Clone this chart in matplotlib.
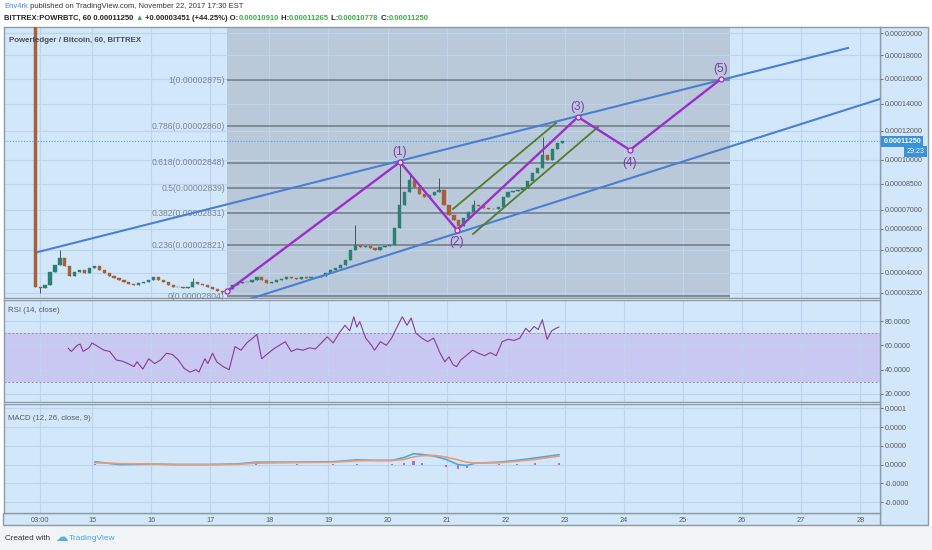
import matplotlib
matplotlib.use("Agg")
import matplotlib.pyplot as plt
import numpy as np

plt.rcParams["font.family"] = ["Liberation Sans", "DejaVu Sans"]

W, H = 932, 550

# ---------------- data ----------------
# 2-hour candles from Nov 14 ~01:00 to Nov 22 ~23:00, prices in satoshi (1e-8 BTC)
candle_t0 = 14.04
candle_step = 2 / 24
first_open = 30000
closes = [3424, 3385, 3502, 4023, 4318, 4624, 4276, 3859, 4023, 4106,
          3982, 4190, 4276, 4106, 3982, 3859, 3779, 3698, 3619, 3541,
          3502, 3580, 3619, 3698, 3819, 3698, 3619, 3502, 3424, 3424,
          3385, 3424, 3619, 3541, 3502, 3424, 3350, 3275, 3238, 3350,
          3502, 3580, 3619, 3619, 3698, 3819, 3698, 3580, 3619, 3698,
          3738, 3819, 3779, 3738, 3819, 3779, 3819, 3819, 3859, 3982,
          4106, 4190, 4318, 4535, 4984, 5217, 5123, 5170, 5077, 4984,
          5123, 5170, 5217, 6050, 7274, 8016, 8733, 8310, 7899, 7726,
          7841, 8016, 8133, 7274, 6727, 6463, 6152, 6568, 6890, 7274,
          7218, 7109, 7054, 7054, 7164, 7726, 8016, 8074, 8133, 8251,
          8672, 9165, 9480, 10324, 9994, 10726, 11135, 11250]
spike_highs = {5: 4984, 32: 3779, 65: 6203, 74: 9865, 76: 9040, 82: 8855, 89: 7555, 103: 11550}
spike_lows = {1: 3200, 38: 3164, 86: 5949}
last_price = 11250

price_ticks = [3200, 4000, 5000, 6000, 7000, 8500, 10000, 12000, 14000, 16000, 18000, 20000]

# fibonacci retracement
fib_ratios = [0, 0.236, 0.382, 0.5, 0.618, 0.786, 1]
fib_texts = ["0.00002804", "0.00002821", "0.00002831", "0.00002839",
             "0.00002848", "0.00002860", "0.00002875"]
fib_low, fib_high = 3090, 15897
fib_start, fib_end = 17.284, 25.795

# elliott wave
wave_day = [17.284, 20.212, 21.176, 23.223, 24.103, 25.643]
wave_price = [3260, 9865, 5949, 13000, 10658, 15980]
wave_names = ["", "(1)", "(2)", "(3)", "(4)", "(5)"]

# trend lines
upper_day, upper_price = [14.086, 27.792], [4893, 18641]
lower_day, lower_price = [17.504, 28.333], [2876, 14371]
green_a_day, green_a_price = [21.108, 22.851], [7053, 12555]
green_b_day, green_b_price = [21.447, 23.562], [5750, 12263]

# RSI (14, close)
rsi_day = [14.60, 14.65, 14.75, 14.80, 14.85, 14.95, 15.00, 15.10, 15.20, 15.30,
           15.41, 15.51, 15.61, 15.71, 15.76, 15.86, 15.96, 16.06, 16.16, 16.26,
           16.36, 16.46, 16.56, 16.66, 16.76, 16.81, 16.91, 16.96, 17.04, 17.11,
           17.22, 17.32, 17.42, 17.52, 17.62, 17.72, 17.79, 17.87, 17.97, 18.07,
           18.17, 18.27, 18.37, 18.47, 18.57, 18.68, 18.78, 18.88, 18.98, 19.08,
           19.18, 19.28, 19.36, 19.43, 19.48, 19.53, 19.63, 19.73, 19.78, 19.88,
           19.98, 20.07, 20.15, 20.25, 20.33, 20.40, 20.48, 20.58, 20.68, 20.78,
           20.89, 20.97, 21.04, 21.11, 21.17, 21.24, 21.34, 21.44, 21.54, 21.64,
           21.74, 21.84, 21.94, 22.04, 22.14, 22.24, 22.34, 22.40, 22.48, 22.55,
           22.62, 22.70, 22.78, 22.85, 22.90]
rsi_value = [57.5, 55, 60, 61, 55, 58, 62, 59, 56, 55,
             48, 47, 45, 42.5, 46.5, 40.5, 49, 45, 48, 53.5,
             52.5, 48, 41, 38, 40, 38, 49, 45, 53.5, 46.5,
             42.5, 40, 59, 56, 62, 66, 69, 49, 53, 57,
             60, 63, 55, 57, 56, 58, 57, 62, 67, 62,
             70, 76.5, 72, 83.5, 75, 79.5, 66, 60, 56, 63,
             60, 66, 74, 83.5, 76.5, 82.5, 70, 66, 63, 66,
             53.5, 46.5, 50.5, 44, 42.5, 48, 52, 56, 53.5, 51.5,
             54, 51.5, 63, 65, 64, 66, 74, 71, 75.5, 73,
             81, 65, 72, 74, 75]

# MACD (12, 26, close, 9), values in 1e-5
macd_day = [15.05, 15.46, 16.06, 16.46, 16.96, 17.47, 17.77, 18.47, 19.08, 19.48,
            19.88, 20.08, 20.28, 20.44, 20.58, 20.79, 20.99, 21.19, 21.34, 21.49,
            21.89, 22.19, 22.50, 22.90]
macd_line = [0.3, 0.0, 0.05, 0.0, 0.0, 0.07, 0.25, 0.25, 0.3, 0.5,
             0.43, 0.45, 0.75, 1.15, 1.08, 0.9, 0.55, 0.0, -0.1, 0.15,
             0.25, 0.45, 0.7, 1.05]
macd_signal = [0.2, 0.1, 0.05, 0.0, 0.0, 0.03, 0.15, 0.22, 0.25, 0.4,
               0.45, 0.43, 0.55, 0.8, 0.95, 0.97, 0.8, 0.5, 0.25, 0.15,
               0.2, 0.35, 0.55, 0.9]
macd_ticks = [6e-5, 4e-5, 2e-5, 0, -2e-5, -4e-5]

date_ticks = [14.125, 15, 16, 17, 18, 19, 20, 21, 22, 23, 24, 25, 26, 27, 28]
date_labels = ["03:00", "15", "16", "17", "18", "19", "20", "21", "22", "23",
               "24", "25", "26", "27", "28"]

# ---------------- style ----------------
BG = "#d3e7fb"
GRID = "#bcd4ec"
SPINE = "#8d9ba7"
AXTXT = "#5a5a5a"
UP, DOWN, WICK = "#2b8073", "#a85f38", "#3a3f44"
PURPLE = "#9b2fc9"
BLUE = "#4a7fd2"
GREEN = "#4f7d2b"
SAT = 1e-8
XLIM = (13.511, 28.333)


def px_axes(fig, x0, y0, x1, y1):
    return fig.add_axes([x0 / W, 1 - y1 / H, (x1 - x0) / W, (y1 - y0) / H])


def style_pane(ax):
    ax.set_facecolor(BG)
    ax.set_xlim(*XLIM)
    ax.set_axisbelow(True)
    ax.grid(True, color=GRID, lw=0.8)
    for sp in ax.spines.values():
        sp.set_color(SPINE)
        sp.set_linewidth(1.0)
    ax.yaxis.tick_right()
    ax.tick_params(axis="y", which="both", length=2.5, width=0.6, color=AXTXT,
                   labelsize=5.1, labelcolor=AXTXT, pad=1)
    ax.tick_params(axis="x", length=0, labelbottom=False)
    ax.set_xticks(date_ticks)


def draw_runs(fig, x, y, runs, size, weight="normal"):
    renderer = fig.canvas.get_renderer()
    for s, color in runs:
        t = fig.text(x / W, 1 - y / H, s, color=color, fontsize=size,
                     fontweight=weight, ha="left", va="center")
        x += t.get_window_extent(renderer=renderer).width


fig = plt.figure(figsize=(W / 100, H / 100), dpi=100, facecolor="white")

# chart frame backgrounds (right scale + date scale + footer)
fig.patches.append(plt.Rectangle((880 / W, 1 - 525 / H), 48 / W, 498 / H,
                                 transform=fig.transFigure, fc=BG, ec=SPINE, lw=1.0, zorder=-5))
fig.patches.append(plt.Rectangle((3 / W, 1 - 525 / H), 877 / W, 12 / H,
                                 transform=fig.transFigure, fc=BG, ec=SPINE, lw=1.0, zorder=-5))
fig.patches.append(plt.Rectangle((0, 0), 1, 24 / H, transform=fig.transFigure,
                                 fc="#f1f4f7", ec="none", zorder=-6))

# ---------------- main price pane ----------------
ax = px_axes(fig, 4, 27, 880, 298)
style_pane(ax)
ax.set_yscale("function", functions=(np.sqrt, np.square))
ax.set_ylim(3018 * SAT, 20558 * SAT)
ax.set_yticks([p * SAT for p in price_ticks])
ax.set_yticklabels([f"{p * SAT:.8f}" for p in price_ticks])
ax.minorticks_off()

ax.axvspan(fib_start, fib_end, color="#b9c9d9", zorder=0.3, lw=0)

# candles
n = len(closes)
t = candle_t0 + candle_step * np.arange(n)
opens = [first_open] + closes[:-1]
for i in range(n):
    o, c = opens[i], closes[i]
    hi = max(o, c, spike_highs.get(i, 0))
    lo = min(o, c, spike_lows.get(i, 10 ** 9))
    col = UP if c >= o else DOWN
    ax.vlines(t[i], lo * SAT, hi * SAT, color=WICK, lw=0.6, zorder=2)
    bottom = min(o, c)
    height = max(abs(c - o), 12)
    ax.bar(t[i], height * SAT, bottom=bottom * SAT, width=0.055, color=col,
           edgecolor=col, lw=0.3, zorder=3)

# fibonacci
s_lo, s_hi = np.sqrt(fib_low * SAT), np.sqrt(fib_high * SAT)
for r, txt in zip(fib_ratios, fib_texts):
    level = (s_lo + r * (s_hi - s_lo)) ** 2
    ax.hlines(level, fib_start, fib_end, color="#6f7a84", lw=1.1, zorder=1.5)
    ax.annotate(f"{r:g}({txt})", (fib_start, level), xytext=(-1.5, 0),
                textcoords="offset points", ha="right", va="center",
                fontsize=6.2, color="#7b8590")

# last price line
ax.axhline(last_price * SAT, color="#4fa8dc", lw=0.8, ls=(0, (1, 1.5)), zorder=1.6)

# trend lines
ax.plot(upper_day, [p * SAT for p in upper_price], color=BLUE, lw=1.5, zorder=4)
ax.plot(lower_day, [p * SAT for p in lower_price], color=BLUE, lw=1.5, zorder=4)
ax.plot(green_a_day, [p * SAT for p in green_a_price], color=GREEN, lw=1.3, zorder=4)
ax.plot(green_b_day, [p * SAT for p in green_b_price], color=GREEN, lw=1.3, zorder=4)

# elliott wave
ax.plot(wave_day, [p * SAT for p in wave_price], color=PURPLE, lw=1.7, zorder=5,
        marker="o", ms=3.6, mfc="#e6d9f2", mec=PURPLE, mew=0.9)
for i, (d, p, name) in enumerate(zip(wave_day, wave_price, wave_names)):
    if not name:
        continue
    peak = wave_price[i] > wave_price[i - 1]
    ax.annotate(name, (d, p * SAT), xytext=(0, 7.5 if peak else -9),
                textcoords="offset points", ha="center", va="center",
                fontsize=8.6, color="#7d3aa8", zorder=6)

ax.text(5 / 876, 1 - 13 / 271, "Powerledger / Bitcoin, 60, BITTREX", transform=ax.transAxes,
        fontsize=5.7, fontweight="bold", color="#4a4f55", va="center", ha="left")

# price label on scale
ytr = ax.get_yaxis_transform()
ax.annotate(f"{last_price * SAT:.8f}", (1.0, last_price * SAT), xycoords=ytr,
            xytext=(2.5, 0), textcoords="offset points", ha="left", va="center",
            fontsize=5.1, fontweight="bold", color="white", annotation_clip=False,
            bbox=dict(boxstyle="square,pad=0.3", fc="#3a92da", ec="none"))
ax.annotate("29:23", (1.0, last_price * SAT), xycoords=ytr,
            xytext=(32, -7.5), textcoords="offset points", ha="right", va="center",
            fontsize=5.1, color="white", annotation_clip=False,
            bbox=dict(boxstyle="square,pad=0.3", fc="#3a92da", ec="none"))

# ---------------- RSI pane ----------------
ax_rsi = px_axes(fig, 4, 300, 880, 402)
style_pane(ax_rsi)
ax_rsi.set_ylim(13.4, 97.3)
ax_rsi.set_yticks([20, 40, 60, 80])
ax_rsi.set_yticklabels([f"{v:.4f}" for v in [20, 40, 60, 80]])
ax_rsi.axhspan(30, 70, color="#c9c8f3", zorder=0.4, lw=0)
ax_rsi.axhline(70, color="#8f8fa6", lw=0.7, ls=(0, (2, 2)))
ax_rsi.axhline(30, color="#8f8fa6", lw=0.7, ls=(0, (2, 2)))
ax_rsi.plot(rsi_day, rsi_value, color="#8d3a92", lw=0.8, zorder=3)
ax_rsi.text(0.005, 0.9, "RSI (14, close)", transform=ax_rsi.transAxes,
            fontsize=5.6, color="#555a60", va="center", ha="left")

# ---------------- MACD pane ----------------
ax_m = px_axes(fig, 4, 404, 880, 513)
style_pane(ax_m)
ax_m.set_ylim(-5.16e-5, 6.45e-5)
ax_m.set_yticks(macd_ticks)
ax_m.set_yticklabels([f"{v:.4f}" for v in macd_ticks])
hist = np.array(macd_line) - np.array(macd_signal)
ax_m.bar(macd_day, hist * 1e-5, width=0.035, color="#c46bb4", zorder=2)
ax_m.plot(macd_day, np.array(macd_line) * 1e-5, color="#44a8f0", lw=1.2, zorder=3)
ax_m.plot(macd_day, np.array(macd_signal) * 1e-5, color="#ee9a6c", lw=1.2, zorder=4)
ax_m.text(0.005, 0.87, "MACD (12, 26, close, 9)", transform=ax_m.transAxes,
          fontsize=5.6, color="#555a60", va="center", ha="left")
ax_m.tick_params(axis="x", labelbottom=True, labelsize=5.3, labelcolor=AXTXT, pad=3)
ax_m.set_xticklabels(date_labels)

# ---------------- header / footer ----------------
draw_runs(fig, 4, 7, [("Env4rk", "#3d8fd6"),
                      (" published on TradingView.com, November 22, 2017 17:30 EST", "#333333")],
          5.5)
G = "#3faa48"
D = "#222222"
draw_runs(fig, 4, 18, [("BITTREX:POWRBTC, 60 0.00011250 ", D), ("\u25b2", G),
                       (" +0.00003451 (+44.25%) O:", D), ("0.00010910", G),
                       (" H:", D), ("0.00011265", G), (" L:", D), ("0.00010778", G),
                       (" C:", D), ("0.00011250", G)], 5.5, "bold")

fig.text(5 / W, 1 - 538 / H, "Created with", fontsize=5.8, color="#333333", va="center")
fig.text(55 / W, 1 - 537 / H, "\u2601", fontsize=9, color="#5aaee6", va="center",
         family="DejaVu Sans")
fig.text(69 / W, 1 - 538 / H, "TradingView", fontsize=6.0, color="#4aa3df", va="center")

fig.savefig("out.png", dpi=100, facecolor=fig.get_facecolor())
